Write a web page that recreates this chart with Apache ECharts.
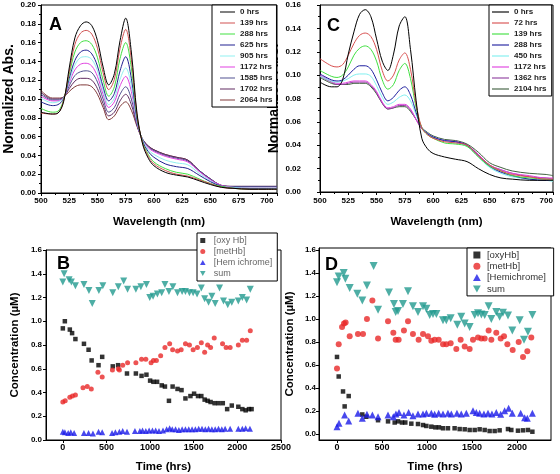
<!DOCTYPE html>
<html><head><meta charset="utf-8">
<script src="https://cdn.jsdelivr.net/npm/echarts@6/dist/echarts.min.js"></script>
<style>html,body{margin:0;padding:0;background:#fff}#c{width:560px;height:474px}</style>
</head><body><div id="c"></div>
<script>
// ---------- Panel A : spectra ----------
const wavelengthsA = [500,510,515,520,525,530,535,540,545,550,555,560,565,570,575,580,585,590,595,600,610,620,630,640,650,660,670,685,700,709];
const labelsA = ['0 hrs','139 hrs','288 hrs','625 hrs','905 hrs','1172 hrs','1585 hrs','1702 hrs','2064 hrs'];
const specA_0 =    [.086,.084,.085,.097,.133,.165,.178,.182,.178,.162,.134,.115,.127,.162,.186,.150,.085,.052,.037,.029,.022,.019,.017,.013,.009,.006,.005,.004,.004,.004];
const specA_139 =  [.085,.084,.085,.098,.129,.158,.170,.173,.169,.154,.128,.110,.121,.154,.174,.142,.083,.053,.039,.031,.024,.020,.018,.014,.010,.006,.005,.004,.004,.004];
const specA_288 =  [.090,.086,.087,.099,.126,.150,.160,.162,.158,.144,.120,.103,.113,.143,.160,.133,.081,.054,.041,.033,.026,.022,.020,.015,.010,.007,.005,.004,.004,.004];
const specA_625 =  [.097,.093,.094,.100,.122,.141,.150,.152,.148,.135,.113,.098,.106,.130,.145,.122,.078,.055,.044,.038,.031,.028,.026,.019,.012,.007,.005,.005,.005,.005];
const specA_905 =  [.101,.096,.097,.101,.119,.136,.144,.145,.142,.130,.109,.094,.101,.121,.133,.114,.076,.056,.046,.041,.035,.032,.030,.021,.013,.007,.006,.005,.005,.005];
const specA_1172 = [.103,.098,.098,.101,.117,.131,.137,.138,.135,.124,.105,.091,.097,.114,.124,.108,.075,.056,.048,.044,.039,.036,.033,.023,.014,.008,.006,.005,.005,.005];
const specA_1585 = [.105,.099,.099,.101,.114,.125,.129,.130,.128,.118,.100,.086,.091,.105,.113,.100,.073,.057,.049,.045,.040,.037,.034,.024,.015,.008,.007,.007,.007,.007];
const specA_1702 = [.107,.100,.100,.102,.111,.119,.122,.122,.120,.111,.095,.082,.086,.098,.105,.094,.072,.057,.050,.046,.041,.038,.035,.024,.015,.008,.007,.007,.007,.007];
const specA_2064 = [.109,.101,.101,.102,.108,.113,.115,.115,.113,.105,.091,.078,.082,.092,.097,.088,.071,.057,.050,.046,.041,.038,.035,.024,.015,.008,.007,.007,.007,.007];
const colorsA = ['#000000','#d05050','#40e040','#202090','#90f0f0','#e040e0','#505090','#602a60','#803838'];

// ---------- Panel C : spectra ----------
const wavelengthsC = [500,510,515,520,525,530,535,540,545,550,555,560,565,570,575,580,585,590,595,600,610,620,630,640,650,660,670,685,700,706];
const labelsC = ['0 hrs','72 hrs','139 hrs','288 hrs','450 hrs','1172 hrs','1362 hrs','2104 hrs'];
const specC_0 =    [.094,.090,.090,.096,.118,.137,.152,.156,.150,.131,.112,.104,.118,.142,.150,.122,.078,.046,.037,.033,.030,.028,.026,.020,.015,.012,.011,.010,.010,.010];
const specC_72 =   [.114,.108,.107,.109,.117,.127,.134,.136,.133,.122,.104,.095,.100,.113,.119,.105,.075,.055,.049,.046,.043,.042,.040,.031,.023,.018,.015,.013,.011,.011];
const specC_139 =  [.104,.099,.098,.100,.107,.117,.123,.125,.122,.112,.096,.088,.092,.104,.110,.097,.072,.055,.049,.046,.042,.041,.039,.030,.022,.018,.014,.012,.011,.010];
const specC_288 =  [.101,.096,.095,.096,.100,.105,.108,.108,.105,.096,.085,.078,.081,.087,.090,.083,.068,.055,.050,.047,.044,.043,.040,.031,.022,.017,.014,.011,.010,.010];
const specC_450 =  [.099,.095,.094,.095,.097,.100,.101,.101,.099,.091,.081,.075,.077,.081,.083,.078,.066,.055,.050,.047,.044,.042,.039,.030,.021,.016,.013,.011,.010,.009];
const specC_1172 = [.100,.095,.093,.093,.094,.095,.095,.095,.092,.086,.077,.072,.073,.075,.075,.071,.062,.054,.050,.047,.044,.043,.040,.032,.023,.019,.016,.014,.012,.012];
const specC_1362 = [.099,.094,.092,.092,.093,.094,.094,.094,.091,.085,.076,.071,.072,.074,.074,.070,.062,.054,.050,.047,.044,.043,.040,.032,.023,.019,.016,.013,.012,.011];
const specC_2104 = [.098,.093,.092,.092,.092,.093,.093,.093,.090,.084,.076,.071,.072,.073,.073,.069,.062,.055,.051,.048,.045,.044,.041,.034,.025,.021,.018,.016,.015,.014];
const colorsC = ['#000000','#d85050','#40e040','#2020a0','#80f0f0','#e040e0','#9040a0','#406040'];

// ---------- Panel B : concentrations ----------
const bOxyT = [0,23,80,106,144,242,295,330,409,451,572,633,735,837,902,958,1000,1038,1080,1133,1170,1216,1258,1314,1360,1405,1462,1504,1549,1587,1625,1659,1693,1739,1784,1833,1883,1936,2011,2057,2095,2133,2163];
const bOxyV = [0.94,1.00,0.93,0.90,0.85,0.81,0.76,0.67,0.63,0.70,0.62,0.63,0.56,0.56,0.54,0.55,0.50,0.49,0.49,0.46,0.45,0.33,0.45,0.43,0.42,0.35,0.37,0.39,0.37,0.37,0.34,0.33,0.32,0.31,0.31,0.31,0.26,0.29,0.28,0.26,0.25,0.26,0.26];
const bMetT = [0,27,80,110,144,231,280,326,402,451,568,636,648,686,742,837,902,951,1011,1038,1072,1121,1170,1224,1258,1314,1356,1405,1451,1493,1542,1587,1625,1659,1693,1735,1830,1871,1917,2011,2057,2106,2148];
const bMetV = [0.32,0.33,0.36,0.37,0.38,0.44,0.45,0.43,0.57,0.53,0.59,0.60,0.59,0.63,0.65,0.65,0.68,0.68,0.65,0.67,0.67,0.71,0.78,0.81,0.76,0.75,0.76,0.81,0.80,0.76,0.78,0.82,0.74,0.80,0.78,0.86,0.81,0.78,0.78,0.80,0.84,0.84,0.92];
const bHemT = [0,23,61,91,129,242,295,345,409,451,564,602,648,686,735,826,883,913,951,989,1027,1064,1102,1148,1189,1224,1254,1292,1330,1367,1405,1443,1481,1519,1557,1595,1633,1670,1708,1746,1784,1822,1860,1917,2011,2057,2095,2144];
const bHemV = [0.07,0.065,0.06,0.065,0.06,0.06,0.06,0.055,0.07,0.065,0.06,0.065,0.07,0.075,0.07,0.075,0.075,0.08,0.075,0.08,0.08,0.08,0.075,0.08,0.09,0.10,0.09,0.09,0.085,0.09,0.09,0.09,0.09,0.09,0.095,0.095,0.09,0.095,0.09,0.09,0.095,0.09,0.095,0.095,0.095,0.095,0.10,0.095];
const bSumT = [0,15,72,98,144,242,299,337,413,458,572,636,697,742,837,894,958,996,1034,1083,1133,1170,1216,1261,1314,1367,1405,1451,1493,1538,1587,1625,1670,1708,1746,1796,1841,1890,1936,2011,2057,2106,2148];
const bSumV = [1.33,1.40,1.35,1.33,1.30,1.31,1.26,1.15,1.26,1.30,1.24,1.29,1.34,1.27,1.27,1.29,1.31,1.20,1.21,1.23,1.24,1.31,1.25,1.29,1.24,1.25,1.25,1.24,1.24,1.23,1.28,1.19,1.16,1.21,1.15,1.28,1.17,1.14,1.16,1.17,1.20,1.18,1.27];

// ---------- Panel D : concentrations ----------
const dOxyT = [0,19,67,85,130,281,326,456,567,641,678,722,759,826,900,956,993,1048,1093,1133,1178,1233,1307,1363,1419,1474,1530,1585,1641,1696,1752,1807,1900,1937,2011,2067,2122,2171];
const dOxyV = [0.67,0.50,0.37,0.24,0.33,0.17,0.15,0.12,0.11,0.10,0.11,0.10,0.10,0.09,0.087,0.078,0.07,0.064,0.058,0.058,0.05,0.05,0.05,0.043,0.041,0.035,0.035,0.041,0.035,0.026,0.026,0.032,0.043,0.035,0.029,0.032,0.035,0.02];
const dMetT = [0,19,56,78,96,141,233,289,333,393,456,567,626,652,685,744,789,844,907,956,1011,1048,1085,1130,1178,1215,1263,1326,1374,1419,1474,1511,1567,1604,1641,1685,1715,1770,1819,1856,1893,1952,2019,2067,2115,2159];
const dMetV = [0.57,0.78,0.93,0.96,0.97,0.85,0.87,0.87,1.00,1.16,0.83,0.98,0.88,0.82,0.82,0.90,0.98,0.87,0.82,0.87,0.85,0.81,0.82,0.82,0.78,0.78,0.79,0.74,0.82,0.76,0.74,0.82,0.84,0.83,0.83,0.90,0.82,0.88,0.83,0.85,0.78,0.73,0.80,0.67,0.72,0.84];
const dHemT = [0,22,85,130,233,281,333,393,456,567,626,655,689,744,796,844,900,956,993,1048,1085,1130,1178,1233,1270,1333,1381,1437,1511,1548,1585,1633,1678,1722,1770,1819,1863,1907,1948,2041,2085,2115,2171];
const dHemV = [0.064,0.093,0.165,0.113,0.18,0.136,0.171,0.165,0.151,0.165,0.151,0.174,0.188,0.165,0.186,0.159,0.174,0.174,0.18,0.18,0.171,0.18,0.174,0.18,0.174,0.18,0.174,0.18,0.203,0.186,0.18,0.174,0.18,0.174,0.186,0.171,0.203,0.223,0.18,0.18,0.142,0.136,0.18];
const dSumT = [0,19,74,93,141,226,281,333,407,456,578,633,652,678,733,789,844,900,956,993,1030,1067,1104,1178,1215,1263,1337,1381,1419,1474,1530,1567,1604,1641,1685,1715,1770,1807,1844,1900,1948,2030,2078,2122,2171];
const dSumV = [1.32,1.37,1.40,1.35,1.27,1.22,1.16,1.29,1.46,1.08,1.23,1.13,1.06,1.07,1.13,1.24,1.11,1.06,1.11,1.09,1.035,1.043,1.043,0.99,0.99,1.006,0.95,1.02,0.96,0.93,1.035,1.05,1.04,1.035,1.11,1.0,1.06,1.02,1.055,1.03,0.90,0.99,0.82,0.89,1.035];

const bNames = ['[oxy Hb]','[metHb]','[Hem ichrome]','sum'];
const dNames = ['[oxyHb] ','[metHb] ','[Hemichrome] ','sum '];
const concTicks = [0,0.2,0.4,0.6,0.8,1.0,1.2,1.4,1.6];
const timeTicksB = [0,500,1000,1500,2000,2500];
const timeTicksD = [0,500,1000,1500,2000];

// ---------- build ----------
const FONT = 'Liberation Sans';
const zip = (xs, ys) => xs.map((x, i) => [x, ys[i]]);
const specsA = [specA_0,specA_139,specA_288,specA_625,specA_905,specA_1172,specA_1585,specA_1702,specA_2064];
const specsC = [specC_0,specC_72,specC_139,specC_288,specC_450,specC_1172,specC_1362,specC_2104];
const namesC = labelsC.map(s => s + ' ');
const LINE_ICON = 'path://M0,0L30,0L30,2L0,2Z';
const concIcons = ['path://M0,0L10,0L10,10L0,10Z', 'circle', 'path://M5,0L10,9L0,9Z', 'path://M0,0L10,0L5,9Z'];

function axisBase(extra) {
  return Object.assign({
    type: 'value',
    axisLine: {show: true, onZero: false, lineStyle: {color: '#000', width: 1}},
    axisTick: {show: true, length: 3, lineStyle: {color: '#000'}},
    splitLine: {show: false},
    nameTextStyle: {color: '#000', fontWeight: 'bold', fontFamily: FONT},
  }, extra);
}
function lbl(size, margin, fmt, custom) {
  const o = {color: '#000', fontWeight: 'bold', fontSize: size, fontFamily: FONT, margin: margin};
  if (fmt) o.formatter = fmt;
  if (custom) o.customValues = custom;
  return o;
}
const plain = v => String(v);

const grids = [
  {left: 41, top: 5, width: 236, height: 188},
  {left: 320, top: 5, width: 233, height: 187},
  {left: 46, top: 250, width: 235, height: 190},
  {left: 319, top: 248, width: 232, height: 192},
].map(g => Object.assign({show: true, borderColor: '#000', borderWidth: 1, backgroundColor: 'transparent', containLabel: false}, g));

const xAxes = [
  axisBase({gridIndex: 0, min: 500, max: 709, interval: 25, axisLabel: lbl(8, 4, plain),
    minorTick: {show: true, splitNumber: 2, length: 2, lineStyle: {color: '#000'}},
    name: 'Wavelength (nm)', nameLocation: 'middle', nameGap: 23,
    nameTextStyle: {color: '#000', fontWeight: 'bold', fontFamily: FONT, fontSize: 11.5}}),
  axisBase({gridIndex: 1, min: 500, max: 706, interval: 25, axisLabel: lbl(8, 5, plain),
    minorTick: {show: true, splitNumber: 2, length: 2, lineStyle: {color: '#000'}},
    name: 'Wavelength (nm)', nameLocation: 'middle', nameGap: 24,
    nameTextStyle: {color: '#000', fontWeight: 'bold', fontFamily: FONT, fontSize: 11.5}}),
  axisBase({gridIndex: 2, min: -193, max: 2500, axisLabel: lbl(9, 3, plain, timeTicksB),
    axisTick: {show: true, length: 3, lineStyle: {color: '#000'}, customValues: timeTicksB},
    name: 'Time (hrs)', nameLocation: 'middle', nameGap: 21,
    nameTextStyle: {color: '#000', fontWeight: 'bold', fontFamily: FONT, fontSize: 11.5}}),
  axisBase({gridIndex: 3, min: -200, max: 2378, axisLabel: lbl(9, 3, plain, timeTicksD),
    axisTick: {show: true, length: 3, lineStyle: {color: '#000'}, customValues: timeTicksD},
    name: 'Time (hrs)', nameLocation: 'middle', nameGap: 21,
    nameTextStyle: {color: '#000', fontWeight: 'bold', fontFamily: FONT, fontSize: 11.5}}),
];
const yAxes = [
  axisBase({gridIndex: 0, min: 0, max: 0.2, interval: 0.02, axisLabel: lbl(8, 5, v => v.toFixed(2)),
    minorTick: {show: true, splitNumber: 2, length: 2, lineStyle: {color: '#000'}},
    name: 'Normalized Abs.', nameLocation: 'middle', nameGap: 25,
    nameTextStyle: {color: '#000', fontWeight: 'bold', fontFamily: FONT, fontSize: 14}}),
  axisBase({gridIndex: 1, min: 0, max: 0.16, interval: 0.02, axisLabel: lbl(8, 19, v => v.toFixed(2)),
    minorTick: {show: true, splitNumber: 2, length: 2, lineStyle: {color: '#000'}},
    name: 'Normalized Abs.', nameLocation: 'middle', nameGap: 32,
    nameTextStyle: {color: '#000', fontWeight: 'bold', fontFamily: FONT, fontSize: 14}}),
  axisBase({gridIndex: 2, min: 0, max: 1.6, interval: 0.2, axisLabel: lbl(8, 4, v => v.toFixed(1)),
    name: 'Concentration (µM)', nameLocation: 'middle', nameGap: 25,
    nameTextStyle: {color: '#000', fontWeight: 'bold', fontFamily: FONT, fontSize: 11.5}}),
  axisBase({gridIndex: 3, min: -0.052, max: 1.617, axisLabel: lbl(8, 3, v => v.toFixed(1), concTicks),
    axisTick: {show: true, length: 3, lineStyle: {color: '#000'}, customValues: concTicks},
    name: 'Concentration (µM)', nameLocation: 'middle', nameGap: 23,
    nameTextStyle: {color: '#000', fontWeight: 'bold', fontFamily: FONT, fontSize: 11.5}}),
];

const series = [];
specsA.forEach((arr, i) => series.push({
  type: 'line', name: labelsA[i], xAxisIndex: 0, yAxisIndex: 0, data: zip(wavelengthsA, arr),
  smooth: 0.35, symbol: 'none', lineStyle: {color: colorsA[i], width: 1}, itemStyle: {color: colorsA[i]}, z: 3 + (8 - i)
}));
specsC.forEach((arr, i) => series.push({
  type: 'line', name: namesC[i], xAxisIndex: 1, yAxisIndex: 1, data: zip(wavelengthsC, arr),
  smooth: 0.35, symbol: 'none', lineStyle: {color: colorsC[i], width: 1}, itemStyle: {color: colorsC[i]}, z: 3 + (8 - i)
}));
const concColors = ['#000000', '#e82828', '#1a1ae8', '#229a8e'];
const concSymbols = ['rect', 'circle', 'triangle', 'triangle'];
const concRot = [0, 0, 0, 180];
const bSets = [[bOxyT, bOxyV], [bMetT, bMetV], [bHemT, bHemV], [bSumT, bSumV]];
const dSets = [[dOxyT, dOxyV], [dMetT, dMetV], [dHemT, dHemV], [dSumT, dSumV]];
const bSizes = [4.5, 5, 6, 7];
const dSizes = [4.5, 6, 7, 8];
bSets.forEach((s, i) => series.push({
  type: 'scatter', name: bNames[i], xAxisIndex: 2, yAxisIndex: 2, data: zip(s[0], s[1]),
  symbol: concSymbols[i], symbolRotate: concRot[i], symbolSize: bSizes[i], itemStyle: {color: concColors[i]}
}));
dSets.forEach((s, i) => series.push({
  type: 'scatter', name: dNames[i], xAxisIndex: 3, yAxisIndex: 3, data: zip(s[0], s[1]),
  symbol: concSymbols[i], symbolRotate: concRot[i], symbolSize: dSizes[i], itemStyle: {color: concColors[i]}
}));

const legendBase = {orient: 'vertical', backgroundColor: '#fff', borderColor: '#000', borderWidth: 1, borderRadius: 0, selectedMode: false, symbolRotate: 0};
const legends = [
  Object.assign({}, legendBase, {left: 212, top: 5, padding: [3, 4, 3, 8], itemWidth: 15, itemHeight: 8, itemGap: 3,
    data: labelsA.map(n => ({name: n, icon: LINE_ICON})),
    textStyle: {fontSize: 8, lineHeight: 8, fontWeight: 'bold', color: '#222', fontFamily: FONT}}),
  Object.assign({}, legendBase, {left: 489, top: 5, padding: [3, 3, 3, 3], itemWidth: 17, itemHeight: 8, itemGap: 3,
    data: namesC.map(n => ({name: n, icon: LINE_ICON})),
    textStyle: {fontSize: 8, lineHeight: 8, fontWeight: 'bold', color: '#222', fontFamily: FONT}}),
  Object.assign({}, legendBase, {left: 197, top: 233, padding: [3, 5, 3, 3], itemWidth: 12, itemHeight: 5, itemGap: 2,
    data: bNames.map((n, i) => ({name: n, icon: concIcons[i]})),
    textStyle: {fontSize: 9, lineHeight: 9, color: '#666', fontFamily: FONT}}),
  Object.assign({}, legendBase, {left: 467, top: 248, padding: [2, 5, 2, 6], itemWidth: 10, itemHeight: 7, itemGap: 1.3,
    data: dNames.map((n, i) => ({name: n, icon: concIcons[i]})),
    textStyle: {fontSize: 9.5, lineHeight: 10, color: '#333', fontFamily: FONT}}),
];

const letterStyle = {fontSize: 18, fontWeight: 'bold', fontFamily: FONT, fill: '#000', textAlign: 'left', textVerticalAlign: 'top'};
const graphic = [
  {type: 'text', left: 49, top: 16, style: Object.assign({text: 'A'}, letterStyle)},
  {type: 'text', left: 327, top: 17, style: Object.assign({text: 'C'}, letterStyle)},
  {type: 'text', left: 57, top: 255, style: Object.assign({text: 'B'}, letterStyle)},
  {type: 'text', left: 325, top: 256, style: Object.assign({text: 'D'}, letterStyle)},
];

const chart = echarts.init(document.getElementById('c'), null, {renderer: 'canvas'});
chart.setOption({
  animation: false,
  backgroundColor: '#fff',
  grid: grids, xAxis: xAxes, yAxis: yAxes, series: series, legend: legends, graphic: graphic
});
</script></body></html>
